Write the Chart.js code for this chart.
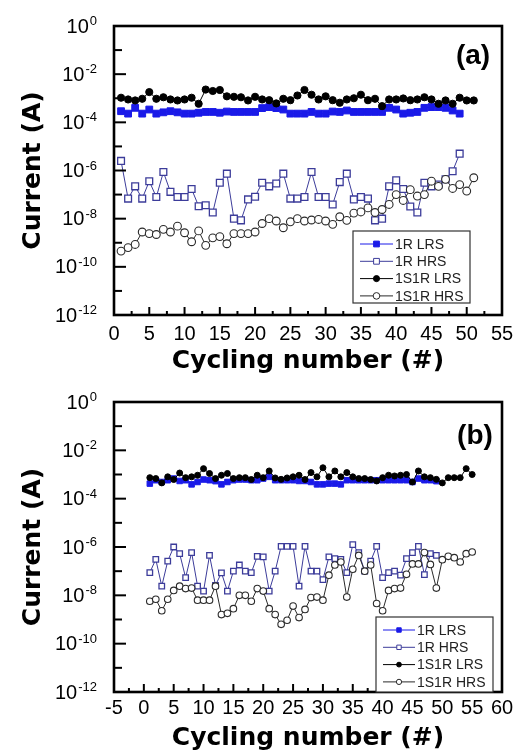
<!DOCTYPE html>
<html>
<head>
<meta charset="utf-8">
<script src="https://cdn.jsdelivr.net/npm/chart.js@4.4.1/dist/chart.umd.min.js"></script>
<style>
  html, body { margin: 0; padding: 0; background: #fff; }
  .panel { position: absolute; left: 0; width: 531px; }
  #panelA { top: 0; height: 377px; }
  #panelB { top: 377px; height: 376px; }
</style>
</head>
<body>
<div class="panel" id="panelA"><canvas id="chartA"></canvas></div>
<div class="panel" id="panelB"><canvas id="chartB"></canvas></div>
<script>
// cycle numbers (x values), series are sliced to their own length
const cycles = [1, 2, 3, 4, 5, 6, 7, 8, 9, 10, 11, 12, 13, 14, 15, 16, 17, 18, 19, 20,
  21, 22, 23, 24, 25, 26, 27, 28, 29, 30, 31, 32, 33, 34, 35, 36, 37, 38, 39, 40,
  41, 42, 43, 44, 45, 46, 47, 48, 49, 50, 51, 52, 53, 54, 55];

const seriesNames = ["1R LRS", "1R HRS", "1S1R LRS", "1S1R HRS"];
const xTicksA = [0, 5, 10, 15, 20, 25, 30, 35, 40, 45, 50, 55];
const xTicksB = [-5, 0, 5, 10, 15, 20, 25, 30, 35, 40, 45, 50, 55, 60];
const yExponents = [0, -2, -4, -6, -8, -10, -12];

// ---- panel (a)
const a1R_LRS = [2.9e-4, 2.3e-4, 4.0e-4, 2.3e-4, 3.4e-4, 2.3e-4, 2.6e-4, 2.9e-4, 2.6e-4, 2.3e-4,
  2.3e-4, 2.5e-4, 2.7e-4, 2.7e-4, 2.5e-4, 2.8e-4, 2.7e-4, 2.7e-4, 2.7e-4, 2.7e-4,
  3.9e-4, 4.3e-4, 3.9e-4, 3.4e-4, 2.3e-4, 2.3e-4, 2.3e-4, 2.7e-4, 2.3e-4, 2.3e-4,
  2.8e-4, 2.7e-4, 3.1e-4, 2.7e-4, 2.7e-4, 2.7e-4, 2.7e-4, 2.7e-4, 4.0e-4, 3.4e-4,
  2.3e-4, 2.5e-4, 2.7e-4, 4.0e-4, 4.3e-4, 4.3e-4, 4.0e-4, 3.1e-4, 2.3e-4];
const a1R_HRS = [2.5e-6, 6.8e-8, 2.2e-7, 6.8e-8, 3.6e-7, 7.9e-8, 8.6e-7, 1.3e-7, 7.9e-8, 7.9e-8,
  1.7e-7, 3.3e-8, 3.6e-8, 1.8e-8, 3.1e-7, 7.4e-7, 1.0e-8, 8.5e-9, 6.3e-8, 8.1e-8,
  3.1e-7, 2.2e-7, 2.9e-7, 7.4e-7, 6.8e-8, 6.8e-8, 7.9e-8, 8.6e-7, 7.9e-8, 7.9e-8,
  3.9e-8, 3.3e-7, 7.4e-7, 6.3e-8, 7.9e-8, 6.8e-8, 8.5e-9, 1.0e-8, 2.2e-7, 3.9e-7,
  1.7e-7, 3.2e-8, 1.8e-8, 3.1e-7, 2.2e-7, 2.6e-7, 4.3e-7, 9.3e-7, 5.0e-6];
const a1S1R_LRS = [1.05e-3, 8.9e-4, 8.1e-4, 9.5e-4, 1.8e-3, 9.5e-4, 1.1e-3, 8.9e-4, 8.1e-4, 8.9e-4,
  1.05e-3, 5.9e-4, 2.3e-3, 2.0e-3, 2.2e-3, 1.2e-3, 1.15e-3, 1.1e-3, 8.1e-4, 1.15e-3,
  8.9e-4, 8.3e-4, 6.1e-4, 9.5e-4, 8.3e-4, 1.3e-3, 2.2e-3, 1.4e-3, 8.9e-4, 1.2e-3,
  8.3e-4, 6.5e-4, 8.9e-4, 1.0e-3, 1.4e-3, 8.3e-4, 9.5e-4, 4.7e-4, 8.9e-4, 8.9e-4,
  9.8e-4, 8.3e-4, 8.9e-4, 1.1e-3, 8.9e-4, 5.9e-4, 8.1e-4, 5.9e-4, 1.05e-3, 8.1e-4, 8.1e-4];
const a1S1R_HRS = [4.5e-10, 6.3e-10, 8.5e-10, 2.8e-9, 2.4e-9, 2.2e-9, 3.6e-9, 2.8e-9, 4.9e-9, 2.6e-9,
  1.1e-9, 3.1e-9, 7.8e-10, 1.6e-9, 1.8e-9, 9.1e-10, 2.4e-9, 2.4e-9, 2.4e-9, 2.8e-9,
  6.3e-9, 1.0e-8, 8.0e-9, 4.2e-9, 7.4e-9, 1.0e-8, 8.0e-9, 8.8e-9, 9.3e-9, 8.0e-9,
  5.8e-9, 1.2e-8, 8.5e-9, 1.7e-8, 1.9e-8, 2.8e-8, 1.8e-8, 2.4e-8, 3.9e-8, 1.0e-7,
  5.7e-8, 1.6e-7, 8.7e-8, 1.0e-7, 3.6e-7, 2.2e-7, 4.3e-7, 1.8e-7, 2.6e-7, 1.4e-7, 5.0e-7];

// ---- panel (b)
const b1R_LRS = [4.2e-4, 5.8e-4, 4.9e-4, 5.8e-4, 6.8e-4, 5.4e-4, 5.8e-4, 3.9e-4, 4.9e-4, 6.2e-4,
  5.8e-4, 5.3e-4, 3.9e-4, 4.9e-4, 5.8e-4, 6.2e-4, 6.2e-4, 5.8e-4, 5.8e-4, 6.8e-4,
  8.0e-4, 5.8e-4, 5.8e-4, 5.8e-4, 5.8e-4, 5.4e-4, 5.4e-4, 4.9e-4, 3.9e-4, 3.9e-4,
  4.2e-4, 4.2e-4, 3.9e-4, 5.8e-4, 5.8e-4, 5.8e-4, 5.8e-4, 5.8e-4, 5.8e-4, 5.8e-4,
  5.8e-4, 5.8e-4, 5.8e-4, 5.8e-4, 4.9e-4, 6.8e-4, 5.8e-4, 5.8e-4, 5.3e-4];
const b1R_HRS = [8.7e-8, 3.1e-7, 2.4e-8, 2.6e-7, 1.0e-6, 5.3e-7, 5.4e-8, 5.9e-7, 2.4e-8, 1.5e-8,
  4.5e-7, 2.6e-8, 8.5e-8, 1.5e-8, 1.0e-7, 1.8e-7, 1.0e-7, 8.7e-8, 4.1e-7, 3.9e-7,
  1.5e-8, 1.0e-7, 1.07e-6, 1.07e-6, 1.07e-6, 2.4e-8, 1.07e-6, 1.0e-7, 1.0e-7, 4.5e-8,
  3.9e-7, 3.3e-7, 3.1e-7, 8.7e-8, 1.26e-6, 5.9e-7, 1.0e-7, 2.6e-7, 1.07e-6, 5.4e-8,
  8.7e-8, 1.0e-7, 6.8e-8, 3.3e-7, 5.9e-7, 1.07e-6, 7.2e-8, 5.3e-7, 4.5e-7];
const b1S1R_LRS = [7.4e-4, 6.8e-4, 4.5e-4, 8.0e-4, 6.2e-4, 1.15e-3, 7.4e-4, 8.0e-4, 9.3e-4, 1.75e-3,
  1.1e-3, 6.8e-4, 9.3e-4, 1.1e-3, 6.8e-4, 7.4e-4, 7.4e-4, 6.2e-4, 9.3e-4, 7.4e-4,
  1.4e-3, 7.2e-4, 6.3e-4, 7.2e-4, 8.0e-4, 9.3e-4, 6.2e-4, 1.2e-3, 8.0e-4, 1.9e-3,
  8.0e-4, 1.4e-3, 8.0e-4, 1.2e-3, 8.0e-4, 6.8e-4, 6.8e-4, 6.2e-4, 5.4e-4, 7.4e-4,
  9.3e-4, 8.7e-4, 9.3e-4, 1.0e-3, 4.9e-4, 1.4e-3, 8.0e-4, 7.4e-4, 6.3e-4, 4.5e-4,
  7.4e-4, 7.4e-4, 7.4e-4, 1.75e-3, 1.0e-3];
const b1S1R_HRS = [5.7e-9, 6.9e-9, 2.3e-9, 6.9e-9, 1.6e-8, 2.4e-8, 1.9e-8, 2.0e-8, 6.3e-9, 6.3e-9,
  6.3e-9, 2.4e-8, 1.6e-9, 1.8e-9, 2.8e-9, 1.0e-8, 1.0e-8, 5.7e-9, 1.9e-8, 1.5e-8,
  2.8e-9, 1.6e-9, 6.3e-10, 9.3e-10, 3.6e-9, 1.2e-9, 2.6e-9, 8.1e-9, 8.5e-9, 6.3e-9,
  6.8e-8, 1.8e-7, 2.4e-7, 8.5e-9, 1.2e-7, 4.5e-7, 1.0e-7, 1.8e-7, 4.6e-9, 2.3e-9,
  1.6e-8, 1.9e-8, 2.0e-8, 7.4e-8, 2.0e-7, 2.0e-7, 5.9e-7, 1.9e-7, 2.0e-8, 3.0e-7,
  4.1e-7, 3.6e-7, 2.4e-7, 5.3e-7, 6.2e-7];

const tickFont = '"Liberation Sans", Arial, sans-serif';

function pts(values) {
  return values.map((v, i) => ({ x: cycles[i], y: v }));
}

// frame, inward ticks, 10^n labels, panel tag and boxed legend
const panelPlugin = {
  id: "panel",
  afterDraw(chart, args, o) {
    const ctx = chart.ctx;
    const a = chart.chartArea;
    const xs = chart.scales.x;
    const ys = chart.scales.y;
    ctx.save();
    ctx.strokeStyle = "#000";
    ctx.lineWidth = 2;
    // x ticks, bottom edge, pointing in
    for (let v = xs.min; v <= xs.max + 1e-9; v += 2.5) {
      const px = xs.getPixelForValue(v);
      const len = Math.abs(v % 5) < 1e-9 ? 8 : 4;
      ctx.beginPath();
      ctx.moveTo(px, a.bottom);
      ctx.lineTo(px, a.bottom - len);
      ctx.stroke();
    }
    // y ticks, left edge, every decade
    for (let e = 0; e >= -12; e--) {
      const py = ys.getPixelForValue(Math.pow(10, e));
      const len = e % 2 === 0 ? 12 : 8;
      ctx.beginPath();
      ctx.moveTo(a.left, py);
      ctx.lineTo(a.left + len, py);
      ctx.stroke();
    }
    // frame
    ctx.lineWidth = 2.6;
    ctx.strokeRect(a.left, a.top, a.right - a.left, a.bottom - a.top);

    // y labels 10^n
    ctx.fillStyle = "#000";
    yExponents.forEach(e => {
      const py = ys.getPixelForValue(Math.pow(10, e));
      const sup = String(e);
      ctx.font = "13px " + tickFont;
      const supW = ctx.measureText(sup).width;
      ctx.font = "20px " + tickFont;
      const baseW = ctx.measureText("10").width;
      const x0 = o.labelRight - supW - baseW - 1;
      ctx.textAlign = "left";
      ctx.textBaseline = "middle";
      ctx.fillText("10", x0, py + 1);
      ctx.font = "13px " + tickFont;
      ctx.textBaseline = "alphabetic";
      ctx.fillText(sup, x0 + baseW + 1, py - 1);
    });

    // panel tag
    ctx.font = "bold 28px " + tickFont;
    ctx.textAlign = "center";
    ctx.textBaseline = "middle";
    ctx.fillText(o.tag, a.right - o.tagDx, a.top + o.tagDy);

    // legend box
    const L = o.legend;
    ctx.fillStyle = "#fff";
    ctx.fillRect(L.x, L.y, L.w, L.h);
    ctx.strokeStyle = "#333";
    ctx.lineWidth = 1.2;
    ctx.strokeRect(L.x, L.y, L.w, L.h);
    chart.data.datasets.forEach((ds, i) => {
      const cy = L.y + L.first + i * L.step;
      const lx = L.x + 7;
      ctx.strokeStyle = ds.borderColor;
      ctx.lineWidth = 1;
      ctx.beginPath();
      ctx.moveTo(lx, cy);
      ctx.lineTo(lx + L.line, cy);
      ctx.stroke();
      ctx.fillStyle = ds.pointBackgroundColor;
      ctx.strokeStyle = ds.pointBorderColor;
      Chart.helpers.drawPoint(ctx, {
        pointStyle: ds.pointStyle,
        rotation: 0,
        radius: ds.pointRadius * L.mark,
        borderWidth: ds.pointBorderWidth
      }, lx + L.line / 2, cy);
      ctx.fillStyle = "#222";
      ctx.font = "14px " + tickFont;
      ctx.textAlign = "left";
      ctx.textBaseline = "middle";
      ctx.fillText(ds.label, lx + L.line + 2, cy + 1);
    });
    ctx.restore();
  }
};

function makePanel(id, data4, xMin, xMax, xTicks, look) {
  const canvas = document.getElementById(id);
  const H = canvas.parentNode.clientHeight;
  const styles = [
    { color: "#1a1ae8", fill: "#1a1ae8", shape: "rect", r: look.sq, bw: 1 },
    { color: "#3c3c9a", fill: "#ffffff", shape: "rect", r: look.sq, bw: 1.3 },
    { color: "#000000", fill: "#000000", shape: "circle", r: look.dot, bw: 1 },
    { color: "#2a2a2a", fill: "#ffffff", shape: "circle", r: look.dot + 0.3, bw: 1.1 }
  ];
  const datasets = data4.map((vals, i) => ({
    label: seriesNames[i],
    data: pts(vals),
    borderColor: styles[i].color,
    borderWidth: 1,
    pointStyle: styles[i].shape,
    pointRadius: styles[i].r,
    pointBorderWidth: styles[i].bw,
    pointBorderColor: styles[i].color,
    pointBackgroundColor: styles[i].fill,
    order: i >= 2 ? 0 : 1
  }));
  return new Chart(canvas, {
    type: "line",
    data: { datasets },
    plugins: [panelPlugin],
    options: {
      responsive: true,
      maintainAspectRatio: false,
      animation: false,
      layout: { padding: { left: 0, right: 29, top: look.top, bottom: 0 } },
      plugins: {
        legend: { display: false },
        tooltip: { enabled: false },
        panel: look.panel
      },
      scales: {
        x: {
          type: "linear",
          min: xMin,
          max: xMax,
          afterBuildTicks: s => { s.ticks = xTicks.map(v => ({ value: v })); },
          afterFit: s => { s.height = H - 315; },
          grid: { display: false, drawTicks: false },
          border: { display: false },
          ticks: {
            autoSkip: false,
            maxRotation: 0,
            padding: look.xPad,
            color: "#000",
            font: { family: tickFont, size: 20, lineHeight: 1.2 }
          },
          title: {
            display: true,
            text: "Cycling number (#)",
            color: "#000",
            font: { family: "DejaVu Sans", size: 25, weight: "bold", lineHeight: 1.2 },
            padding: { top: 0, bottom: look.titlePad }
          }
        },
        y: {
          type: "logarithmic",
          min: 1e-12,
          max: 1,
          afterFit: s => { s.width = 114; },
          grid: { display: false, drawTicks: false },
          border: { display: false },
          ticks: { display: false },
          title: {
            display: true,
            text: "Current (A)",
            color: "#000",
            font: { family: "DejaVu Sans", size: 25, weight: "bold", lineHeight: 1.2 },
            padding: { top: 18, bottom: 0 }
          }
        }
      }
    }
  });
}

makePanel("chartA", [a1R_LRS, a1R_HRS, a1S1R_LRS, a1S1R_HRS], 0, 55, xTicksA, {
  sq: 4.8, dot: 3.6, top: 26, xPad: 7, titlePad: 1,
  panel: {
    labelRight: 97, tag: "(a)", tagDx: 29, tagDy: 30,
    legend: { x: 353, y: 231, w: 117, h: 72, first: 13, step: 17.3, line: 33, mark: 0.85 }
  }
});
makePanel("chartB", [b1R_LRS, b1R_HRS, b1S1R_LRS, b1S1R_HRS], -5, 60, xTicksB, {
  sq: 3.9, dot: 3.0, top: 25, xPad: 4, titlePad: 0,
  panel: {
    labelRight: 97, tag: "(b)", tagDx: 27, tagDy: 34,
    legend: { x: 376, y: 240, w: 117, h: 75, first: 13, step: 17.3, line: 32, mark: 0.8 }
  }
});
</script>
</body>
</html>
